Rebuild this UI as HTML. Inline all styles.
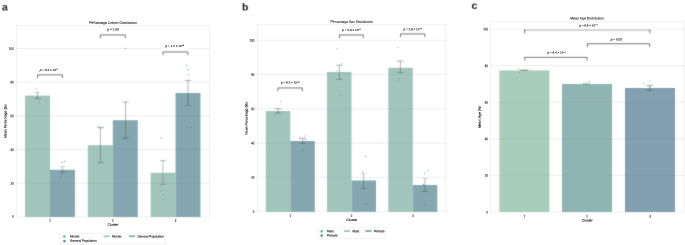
<!DOCTYPE html>
<html lang="en"><head><meta charset="utf-8"><title>Cluster distributions</title>
<style>html,body{margin:0;padding:0;background:#fff}svg{display:block}svg text{font-family:"Liberation Sans",Arial,sans-serif;text-rendering:geometricPrecision}</style></head><body>
<svg width="685" height="245" viewBox="0 0 685 245" >
<defs><filter id="soft" x="0" y="0" width="100%" height="100%" color-interpolation-filters="sRGB"><feConvolveMatrix order="3" kernelMatrix="1 6 1 6 36 6 1 6 1" divisor="64" edgeMode="duplicate"/></filter></defs>
<g filter="url(#soft)">
<rect width="685" height="245" fill="#fff"/>
<text x="2.00" y="10.50" font-size="10.4" text-anchor="start" font-weight="bold" fill="#111" stroke="#111" stroke-width="0.000" transform="rotate(0.05 2.00 10.50)">a</text>
<rect x="16.40" y="25.20" width="193.10" height="191.80" fill="#fff" stroke="#dadada" stroke-width="0.42"/>
<path d="M16.40 183.30H209.50" stroke="#e4e4e4" stroke-width="0.4"/>
<path d="M16.40 149.60H209.50" stroke="#e4e4e4" stroke-width="0.4"/>
<path d="M16.40 115.90H209.50" stroke="#e4e4e4" stroke-width="0.4"/>
<path d="M16.40 82.20H209.50" stroke="#e4e4e4" stroke-width="0.4"/>
<path d="M16.40 48.50H209.50" stroke="#e4e4e4" stroke-width="0.4"/>
<rect x="25.00" y="95.60" width="25.00" height="121.40" fill="#a1c5ba"/>
<rect x="50.00" y="169.80" width="25.00" height="47.20" fill="#85a8b0"/>
<rect x="87.80" y="145.20" width="25.00" height="71.80" fill="#a1c5ba"/>
<rect x="112.80" y="120.20" width="25.00" height="96.80" fill="#85a8b0"/>
<rect x="150.65" y="172.80" width="24.90" height="44.20" fill="#a1c5ba"/>
<rect x="175.55" y="93.00" width="24.90" height="124.00" fill="#85a8b0"/>
<path d="M16.40 183.30H209.50" stroke="#000" stroke-opacity="0.09" stroke-width="0.4"/>
<path d="M16.40 149.60H209.50" stroke="#000" stroke-opacity="0.09" stroke-width="0.4"/>
<path d="M16.40 115.90H209.50" stroke="#000" stroke-opacity="0.09" stroke-width="0.4"/>
<path d="M16.40 82.20H209.50" stroke="#000" stroke-opacity="0.09" stroke-width="0.4"/>
<path d="M16.40 48.50H209.50" stroke="#000" stroke-opacity="0.09" stroke-width="0.4"/>
<path d="M37.40 92.40V98.60" fill="none" stroke="#4a4a4a" stroke-width="0.42"/>
<path d="M34.30 92.40H40.50" fill="none" stroke="#8a8a8a" stroke-width="0.42"/>
<path d="M34.30 98.60H40.50" fill="none" stroke="#4a4a4a" stroke-width="0.42"/>
<path d="M62.60 166.60V172.40" fill="none" stroke="#4a4a4a" stroke-width="0.42"/>
<path d="M59.20 166.60H66.00" fill="none" stroke="#999" stroke-width="0.42"/>
<path d="M59.20 172.40H66.00" fill="none" stroke="#4a4a4a" stroke-width="0.42"/>
<path d="M100.40 127.60V162.60" fill="none" stroke="#4a4a4a" stroke-width="0.42"/>
<path d="M97.30 127.60H103.50" fill="none" stroke="#4a4a4a" stroke-width="0.42"/>
<path d="M97.30 162.60H103.50" fill="none" stroke="#4a4a4a" stroke-width="0.42"/>
<path d="M125.60 102.00V138.00" fill="none" stroke="#4a4a4a" stroke-width="0.42"/>
<path d="M122.50 102.00H128.70" fill="none" stroke="#4a4a4a" stroke-width="0.42"/>
<path d="M122.50 138.00H128.70" fill="none" stroke="#4a4a4a" stroke-width="0.42"/>
<path d="M162.90 160.60V184.40" fill="none" stroke="#777" stroke-width="0.5"/>
<path d="M159.80 160.60H166.00" fill="none" stroke="#777" stroke-width="0.5"/>
<path d="M159.80 184.40H166.00" fill="none" stroke="#777" stroke-width="0.5"/>
<path d="M188.00 80.40V105.40" fill="none" stroke="#000" stroke-opacity="0.2" stroke-width="1.4"/>
<path d="M184.90 80.40H191.10" fill="none" stroke="#6a6a6a" stroke-width="0.55"/>
<path d="M184.90 105.40H191.10" fill="none" stroke="#6a6a6a" stroke-width="0.55"/>
<circle cx="35.20" cy="88.20" r="0.55" fill="#4faa8e" fill-opacity="0.85"/>
<circle cx="36.40" cy="90.00" r="0.55" fill="#4faa8e" fill-opacity="0.85"/>
<circle cx="39.40" cy="102.80" r="0.55" fill="#4faa8e" fill-opacity="0.85"/>
<circle cx="98.50" cy="126.60" r="0.55" fill="#4faa8e" fill-opacity="0.85"/>
<circle cx="100.00" cy="127.60" r="0.55" fill="#4faa8e" fill-opacity="0.85"/>
<circle cx="101.60" cy="128.00" r="0.55" fill="#4faa8e" fill-opacity="0.85"/>
<circle cx="103.20" cy="126.80" r="0.55" fill="#4faa8e" fill-opacity="0.85"/>
<circle cx="160.60" cy="138.40" r="0.55" fill="#4faa8e" fill-opacity="0.85"/>
<circle cx="162.40" cy="137.80" r="0.55" fill="#4faa8e" fill-opacity="0.85"/>
<circle cx="160.60" cy="190.40" r="0.55" fill="#4faa8e" fill-opacity="0.85"/>
<circle cx="162.40" cy="195.40" r="0.55" fill="#4faa8e" fill-opacity="0.85"/>
<circle cx="163.40" cy="199.60" r="0.55" fill="#4faa8e" fill-opacity="0.85"/>
<circle cx="62.00" cy="162.40" r="0.55" fill="#2c7597" fill-opacity="0.85"/>
<circle cx="64.40" cy="161.40" r="0.55" fill="#2c7597" fill-opacity="0.85"/>
<circle cx="62.00" cy="174.50" r="0.55" fill="#2c7597" fill-opacity="0.85"/>
<circle cx="60.50" cy="176.50" r="0.55" fill="#2c7597" fill-opacity="0.85"/>
<circle cx="125.60" cy="48.40" r="0.55" fill="#2c7597" fill-opacity="0.85"/>
<circle cx="123.50" cy="138.50" r="0.55" fill="#2c7597" fill-opacity="0.85"/>
<circle cx="125.60" cy="139.20" r="0.55" fill="#2c7597" fill-opacity="0.85"/>
<circle cx="127.60" cy="137.40" r="0.55" fill="#2c7597" fill-opacity="0.85"/>
<circle cx="186.80" cy="65.40" r="0.55" fill="#2c7597" fill-opacity="0.85"/>
<circle cx="188.20" cy="69.60" r="0.55" fill="#2c7597" fill-opacity="0.85"/>
<circle cx="188.40" cy="74.60" r="0.55" fill="#2c7597" fill-opacity="0.85"/>
<circle cx="187.60" cy="127.20" r="0.55" fill="#2c7597" fill-opacity="0.85"/>
<circle cx="191.00" cy="127.60" r="0.55" fill="#2c7597" fill-opacity="0.85"/>
<path d="M37.55 78.10V74.85H62.45V78.10" fill="none" stroke="#3c3c3c" stroke-width="0.7"/>
<path d="M100.35 38.20V34.95H125.25V38.20" fill="none" stroke="#3c3c3c" stroke-width="0.7"/>
<path d="M162.95 55.20V51.95H187.85V55.20" fill="none" stroke="#3c3c3c" stroke-width="0.7"/>
<rect x="162.40" y="43.60" width="26.60" height="5.60" fill="#fff"/>
<rect x="60" y="233.4" width="105.6" height="10.3" rx="0.6" fill="#fff" stroke="#dcdcdc" stroke-width="0.4"/>
<circle cx="64.40" cy="236.50" r="1.2" fill="#4faa8e" fill-opacity="1"/>
<circle cx="64.40" cy="241.10" r="1.2" fill="#2a6a8a" fill-opacity="1"/>
<rect x="103.6" y="235.35" width="6.2" height="1.8" fill="#a1c5ba"/>
<rect x="129" y="235.35" width="6.2" height="1.8" fill="#85a8b0"/>
<text x="241.90" y="10.50" font-size="10.4" text-anchor="start" font-weight="bold" fill="#111" stroke="#111" stroke-width="0.000" transform="rotate(0.05 241.90 10.50)">b</text>
<rect x="257.60" y="24.40" width="188.40" height="187.50" fill="#fff" stroke="#dadada" stroke-width="0.42"/>
<path d="M257.60 177.35H446.00" stroke="#e4e4e4" stroke-width="0.4"/>
<path d="M257.60 143.10H446.00" stroke="#e4e4e4" stroke-width="0.4"/>
<path d="M257.60 108.85H446.00" stroke="#e4e4e4" stroke-width="0.4"/>
<path d="M257.60 74.60H446.00" stroke="#e4e4e4" stroke-width="0.4"/>
<path d="M257.60 40.35H446.00" stroke="#e4e4e4" stroke-width="0.4"/>
<rect x="265.80" y="111.00" width="24.50" height="100.90" fill="#a1c5ba"/>
<rect x="290.30" y="141.00" width="24.50" height="70.90" fill="#85a8b0"/>
<rect x="327.00" y="72.00" width="24.50" height="139.90" fill="#a1c5ba"/>
<rect x="351.50" y="180.50" width="24.50" height="31.40" fill="#85a8b0"/>
<rect x="388.30" y="67.80" width="24.50" height="144.10" fill="#a1c5ba"/>
<rect x="412.80" y="185.00" width="24.50" height="26.90" fill="#85a8b0"/>
<path d="M257.60 177.35H446.00" stroke="#000" stroke-opacity="0.09" stroke-width="0.4"/>
<path d="M257.60 143.10H446.00" stroke="#000" stroke-opacity="0.09" stroke-width="0.4"/>
<path d="M257.60 108.85H446.00" stroke="#000" stroke-opacity="0.09" stroke-width="0.4"/>
<path d="M257.60 74.60H446.00" stroke="#000" stroke-opacity="0.09" stroke-width="0.4"/>
<path d="M257.60 40.35H446.00" stroke="#000" stroke-opacity="0.09" stroke-width="0.4"/>
<path d="M278.00 108.60V113.00" fill="none" stroke="#4a4a4a" stroke-width="0.42"/>
<path d="M274.90 108.60H281.10" fill="none" stroke="#4a4a4a" stroke-width="0.42"/>
<path d="M274.90 113.00H281.10" fill="none" stroke="#4a4a4a" stroke-width="0.42"/>
<path d="M302.60 138.40V143.40" fill="none" stroke="#4a4a4a" stroke-width="0.42"/>
<path d="M299.50 138.40H305.70" fill="none" stroke="#4a4a4a" stroke-width="0.42"/>
<path d="M299.50 143.40H305.70" fill="none" stroke="#4a4a4a" stroke-width="0.42"/>
<path d="M339.40 65.20V79.40" fill="none" stroke="#4a4a4a" stroke-width="0.42"/>
<path d="M336.30 65.20H342.50" fill="none" stroke="#4a4a4a" stroke-width="0.42"/>
<path d="M336.30 79.40H342.50" fill="none" stroke="#4a4a4a" stroke-width="0.42"/>
<path d="M363.60 173.60V188.40" fill="none" stroke="#4a4a4a" stroke-width="0.42"/>
<path d="M360.50 173.60H366.70" fill="none" stroke="#b0b0b0" stroke-width="0.42"/>
<path d="M360.50 188.40H366.70" fill="none" stroke="#4a4a4a" stroke-width="0.42"/>
<path d="M400.40 61.00V72.40" fill="none" stroke="#4a4a4a" stroke-width="0.42"/>
<path d="M397.30 61.00H403.50" fill="none" stroke="#4a4a4a" stroke-width="0.42"/>
<path d="M397.30 72.40H403.50" fill="none" stroke="#4a4a4a" stroke-width="0.42"/>
<path d="M425.00 178.40V191.40" fill="none" stroke="#4a4a4a" stroke-width="0.42"/>
<path d="M421.90 178.40H428.10" fill="none" stroke="#b0b0b0" stroke-width="0.42"/>
<path d="M421.90 191.40H428.10" fill="none" stroke="#4a4a4a" stroke-width="0.42"/>
<circle cx="280.60" cy="101.40" r="0.55" fill="#4faa8e" fill-opacity="0.85"/>
<circle cx="275.00" cy="115.60" r="0.55" fill="#4faa8e" fill-opacity="0.85"/>
<circle cx="337.00" cy="48.40" r="0.55" fill="#4faa8e" fill-opacity="0.85"/>
<circle cx="341.60" cy="63.60" r="0.55" fill="#4faa8e" fill-opacity="0.85"/>
<circle cx="337.00" cy="70.60" r="0.55" fill="#4faa8e" fill-opacity="0.85"/>
<circle cx="341.40" cy="95.40" r="0.55" fill="#4faa8e" fill-opacity="0.85"/>
<circle cx="398.00" cy="47.40" r="0.55" fill="#4faa8e" fill-opacity="0.85"/>
<circle cx="398.00" cy="61.20" r="0.55" fill="#4faa8e" fill-opacity="0.85"/>
<circle cx="399.40" cy="79.00" r="0.55" fill="#4faa8e" fill-opacity="0.85"/>
<circle cx="398.00" cy="81.40" r="0.55" fill="#4faa8e" fill-opacity="0.85"/>
<circle cx="299.40" cy="137.60" r="0.55" fill="#2c7597" fill-opacity="0.85"/>
<circle cx="305.00" cy="136.00" r="0.55" fill="#2c7597" fill-opacity="0.85"/>
<circle cx="305.40" cy="139.40" r="0.55" fill="#2c7597" fill-opacity="0.85"/>
<circle cx="302.60" cy="150.40" r="0.55" fill="#2c7597" fill-opacity="0.85"/>
<circle cx="365.60" cy="156.40" r="0.55" fill="#2c7597" fill-opacity="0.85"/>
<circle cx="362.40" cy="172.00" r="0.55" fill="#2c7597" fill-opacity="0.85"/>
<circle cx="366.40" cy="203.40" r="0.55" fill="#2c7597" fill-opacity="0.85"/>
<circle cx="363.60" cy="188.40" r="0.55" fill="#2c7597" fill-opacity="0.85"/>
<circle cx="428.00" cy="170.20" r="0.55" fill="#2c7597" fill-opacity="0.85"/>
<circle cx="424.40" cy="173.20" r="0.55" fill="#2c7597" fill-opacity="0.85"/>
<circle cx="425.00" cy="204.40" r="0.55" fill="#2c7597" fill-opacity="0.85"/>
<circle cx="423.50" cy="184.40" r="0.55" fill="#2c7597" fill-opacity="0.85"/>
<path d="M277.95 91.20V87.95H302.25V91.20" fill="none" stroke="#3c3c3c" stroke-width="0.7"/>
<path d="M339.35 38.20V34.95H363.25V38.20" fill="none" stroke="#3c3c3c" stroke-width="0.7"/>
<path d="M400.55 37.20V33.95H424.85V37.20" fill="none" stroke="#3c3c3c" stroke-width="0.7"/>
<rect x="317.6" y="228" width="68" height="10.4" rx="0.6" fill="#fff" stroke="#dcdcdc" stroke-width="0.4"/>
<circle cx="321.70" cy="231.20" r="1.2" fill="#4faa8e" fill-opacity="1"/>
<circle cx="321.70" cy="235.60" r="1.2" fill="#2a6a8a" fill-opacity="1"/>
<rect x="344" y="230.1" width="6.1" height="1.9" fill="#a1c5ba"/>
<rect x="365.4" y="230.1" width="6.1" height="1.9" fill="#85a8b0"/>
<text x="471.50" y="9.10" font-size="10.4" text-anchor="start" font-weight="bold" fill="#111" stroke="#111" stroke-width="0.000" transform="rotate(0.05 471.50 9.10)">c</text>
<rect x="490.40" y="21.30" width="193.60" height="190.70" fill="#fff" stroke="#dadada" stroke-width="0.42"/>
<path d="M490.40 175.44H684.00" stroke="#e4e4e4" stroke-width="0.4"/>
<path d="M490.40 138.88H684.00" stroke="#e4e4e4" stroke-width="0.4"/>
<path d="M490.40 102.32H684.00" stroke="#e4e4e4" stroke-width="0.4"/>
<path d="M490.40 65.76H684.00" stroke="#e4e4e4" stroke-width="0.4"/>
<path d="M490.40 29.20H684.00" stroke="#e4e4e4" stroke-width="0.4"/>
<rect x="499.40" y="70.40" width="50" height="141.60" fill="#a8cdbb"/>
<rect x="562.00" y="84.00" width="50" height="128.00" fill="#8fb5b2"/>
<rect x="625.00" y="88.00" width="50" height="124.00" fill="#839fb1"/>
<path d="M490.40 175.44H684.00" stroke="#000" stroke-opacity="0.09" stroke-width="0.4"/>
<path d="M490.40 138.88H684.00" stroke="#000" stroke-opacity="0.09" stroke-width="0.4"/>
<path d="M490.40 102.32H684.00" stroke="#000" stroke-opacity="0.09" stroke-width="0.4"/>
<path d="M490.40 65.76H684.00" stroke="#000" stroke-opacity="0.09" stroke-width="0.4"/>
<path d="M490.40 29.20H684.00" stroke="#000" stroke-opacity="0.09" stroke-width="0.4"/>
<path d="M524.40 69.80V70.60" fill="none" stroke="#777" stroke-width="0.5"/>
<path d="M520.70 69.80H528.10" fill="none" stroke="#777" stroke-width="0.5"/>
<path d="M520.70 70.60H528.10" fill="none" stroke="#777" stroke-width="0.5"/>
<path d="M586.70 83.10V84.30" fill="none" stroke="#999" stroke-width="0.5"/>
<path d="M583.20 83.10H590.20" fill="none" stroke="#999" stroke-width="0.5"/>
<path d="M583.20 84.30H590.20" fill="none" stroke="#999" stroke-width="0.5"/>
<path d="M649.70 85.40V90.40" fill="none" stroke="#555" stroke-width="0.5"/>
<path d="M646.30 85.40H653.10" fill="none" stroke="#555" stroke-width="0.5"/>
<path d="M646.30 90.40H653.10" fill="none" stroke="#555" stroke-width="0.5"/>
<circle cx="518.30" cy="68.90" r="0.55" fill="#4faa8e" fill-opacity="0.85"/>
<circle cx="520.40" cy="69.80" r="0.55" fill="#4faa8e" fill-opacity="0.85"/>
<circle cx="530.50" cy="69.80" r="0.55" fill="#4faa8e" fill-opacity="0.85"/>
<circle cx="519.40" cy="72.50" r="0.55" fill="#4faa8e" fill-opacity="0.85"/>
<circle cx="589.50" cy="81.50" r="0.55" fill="#3a8f93" fill-opacity="0.85"/>
<circle cx="583.60" cy="84.10" r="0.55" fill="#3a8f93" fill-opacity="0.85"/>
<circle cx="586.00" cy="84.50" r="0.55" fill="#3a8f93" fill-opacity="0.85"/>
<circle cx="643.80" cy="83.20" r="0.55" fill="#3f86ad" fill-opacity="0.85"/>
<circle cx="650.00" cy="80.80" r="0.55" fill="#3f86ad" fill-opacity="0.85"/>
<circle cx="650.20" cy="87.20" r="0.55" fill="#3f86ad" fill-opacity="0.85"/>
<path d="M524.2 30.05H650.3" stroke="#c2c2c2" stroke-width="1.15" fill="none"/>
<path d="M524.6 29.7V33.4M649.9 29.7V33.4" stroke="#3a3a3a" stroke-width="0.7" fill="none"/>
<rect x="579.00" y="23.20" width="19.00" height="5.40" fill="#fff"/>
<path d="M587.35 47.00V43.75H649.65V47.00" fill="none" stroke="#3c3c3c" stroke-width="0.7"/>
<path d="M524.75 60.60V57.35H587.05V60.60" fill="none" stroke="#3c3c3c" stroke-width="0.7"/>
</g>
<g>
<text transform="translate(13.80 217.80) rotate(0.05) scale(1 1.35)" font-size="2.9" text-anchor="end" fill="#1a1a1a" stroke="#1a1a1a" stroke-width="0.087">0</text>
<text transform="translate(13.80 184.70) rotate(0.05) scale(1 1.35)" font-size="2.9" text-anchor="end" fill="#1a1a1a" stroke="#1a1a1a" stroke-width="0.087">20</text>
<text transform="translate(13.80 151.00) rotate(0.05) scale(1 1.35)" font-size="2.9" text-anchor="end" fill="#1a1a1a" stroke="#1a1a1a" stroke-width="0.087">40</text>
<text transform="translate(13.80 117.30) rotate(0.05) scale(1 1.35)" font-size="2.9" text-anchor="end" fill="#1a1a1a" stroke="#1a1a1a" stroke-width="0.087">60</text>
<text transform="translate(13.80 83.60) rotate(0.05) scale(1 1.35)" font-size="2.9" text-anchor="end" fill="#1a1a1a" stroke="#1a1a1a" stroke-width="0.087">80</text>
<text transform="translate(13.80 49.90) rotate(0.05) scale(1 1.35)" font-size="2.9" text-anchor="end" fill="#1a1a1a" stroke="#1a1a1a" stroke-width="0.087">100</text>
<text x="112.95" y="23.90" font-size="3.52" text-anchor="middle" font-weight="normal" fill="#222" stroke="#222" stroke-width="0.070" transform="rotate(0.05 112.95 23.90)">Percentage Cohort Distribution</text>
<text transform="translate(50.00 221.80) rotate(0.05) scale(1 1.35)" font-size="2.9" text-anchor="middle" fill="#1a1a1a" stroke="#1a1a1a" stroke-width="0.087">1</text>
<text transform="translate(112.80 221.80) rotate(0.05) scale(1 1.35)" font-size="2.9" text-anchor="middle" fill="#1a1a1a" stroke="#1a1a1a" stroke-width="0.087">2</text>
<text transform="translate(175.50 221.80) rotate(0.05) scale(1 1.35)" font-size="2.9" text-anchor="middle" fill="#1a1a1a" stroke="#1a1a1a" stroke-width="0.087">3</text>
<text x="112.95" y="225.80" font-size="3.45" text-anchor="middle" font-weight="normal" fill="#1a1a1a" stroke="#1a1a1a" stroke-width="0.110" transform="rotate(0.05 112.95 225.80)">Cluster</text>
<text x="6.40" y="121.10" font-size="3.47" text-anchor="middle" font-weight="normal" fill="#1a1a1a" stroke="#1a1a1a" stroke-width="0.111" transform="rotate(-89.95 6.40 121.10)">Mean Percentage (%)</text>
<text x="49.00" y="71.00" font-size="3.0" text-anchor="middle" font-weight="normal" fill="#111" stroke="#111" stroke-width="0.096" transform="rotate(0.05 49.00 71.00)"><tspan font-style="italic">p</tspan> = 6.4 × 10<tspan font-size="2.10" dy="-0.90">−7</tspan></text>
<text x="112.90" y="30.40" font-size="3.25" text-anchor="middle" font-weight="normal" fill="#111" stroke="#111" stroke-width="0.104" transform="rotate(0.05 112.90 30.40)"><tspan font-style="italic">p</tspan> = 1.00</text>
<text x="174.80" y="47.00" font-size="3.0" text-anchor="middle" font-weight="normal" fill="#111" stroke="#111" stroke-width="0.096" transform="rotate(0.05 174.80 47.00)"><tspan font-style="italic">p</tspan> = 1.2 × 10<tspan font-size="2.10" dy="-0.90">−4</tspan></text>
<text x="70.00" y="237.50" font-size="3.12" text-anchor="start" font-weight="normal" fill="#1a1a1a" stroke="#1a1a1a" stroke-width="0.100" transform="rotate(0.05 70.00 237.50)">Minder</text>
<text x="70.00" y="241.80" font-size="3.12" text-anchor="start" font-weight="normal" fill="#1a1a1a" stroke="#1a1a1a" stroke-width="0.100" transform="rotate(0.05 70.00 241.80)">General Population</text>
<text x="112.00" y="237.50" font-size="3.12" text-anchor="start" font-weight="normal" fill="#1a1a1a" stroke="#1a1a1a" stroke-width="0.100" transform="rotate(0.05 112.00 237.50)">Minder</text>
<text x="137.40" y="237.50" font-size="3.12" text-anchor="start" font-weight="normal" fill="#1a1a1a" stroke="#1a1a1a" stroke-width="0.100" transform="rotate(0.05 137.40 237.50)">General Population</text>
<text transform="translate(254.40 213.00) rotate(0.05) scale(1 1.35)" font-size="2.9" text-anchor="end" fill="#1a1a1a" stroke="#1a1a1a" stroke-width="0.087">0</text>
<text transform="translate(254.40 178.75) rotate(0.05) scale(1 1.35)" font-size="2.9" text-anchor="end" fill="#1a1a1a" stroke="#1a1a1a" stroke-width="0.087">20</text>
<text transform="translate(254.40 144.50) rotate(0.05) scale(1 1.35)" font-size="2.9" text-anchor="end" fill="#1a1a1a" stroke="#1a1a1a" stroke-width="0.087">40</text>
<text transform="translate(254.40 110.25) rotate(0.05) scale(1 1.35)" font-size="2.9" text-anchor="end" fill="#1a1a1a" stroke="#1a1a1a" stroke-width="0.087">60</text>
<text transform="translate(254.40 76.00) rotate(0.05) scale(1 1.35)" font-size="2.9" text-anchor="end" fill="#1a1a1a" stroke="#1a1a1a" stroke-width="0.087">80</text>
<text transform="translate(254.40 41.75) rotate(0.05) scale(1 1.35)" font-size="2.9" text-anchor="end" fill="#1a1a1a" stroke="#1a1a1a" stroke-width="0.087">100</text>
<text x="351.80" y="22.90" font-size="3.43" text-anchor="middle" font-weight="normal" fill="#222" stroke="#222" stroke-width="0.069" transform="rotate(0.05 351.80 22.90)">Percentage Sex Distribution</text>
<text transform="translate(290.40 217.00) rotate(0.05) scale(1 1.35)" font-size="2.9" text-anchor="middle" fill="#1a1a1a" stroke="#1a1a1a" stroke-width="0.087">1</text>
<text transform="translate(351.50 217.00) rotate(0.05) scale(1 1.35)" font-size="2.9" text-anchor="middle" fill="#1a1a1a" stroke="#1a1a1a" stroke-width="0.087">2</text>
<text transform="translate(412.80 217.00) rotate(0.05) scale(1 1.35)" font-size="2.9" text-anchor="middle" fill="#1a1a1a" stroke="#1a1a1a" stroke-width="0.087">3</text>
<text x="351.80" y="221.00" font-size="3.45" text-anchor="middle" font-weight="normal" fill="#1a1a1a" stroke="#1a1a1a" stroke-width="0.110" transform="rotate(0.05 351.80 221.00)">Cluster</text>
<text x="247.55" y="118.60" font-size="3.37" text-anchor="middle" font-weight="normal" fill="#1a1a1a" stroke="#1a1a1a" stroke-width="0.108" transform="rotate(-89.95 247.55 118.60)">Mean Percentage (%)</text>
<text x="290.20" y="83.60" font-size="3.0" text-anchor="middle" font-weight="normal" fill="#111" stroke="#111" stroke-width="0.096" transform="rotate(0.05 290.20 83.60)"><tspan font-style="italic">p</tspan> = 6.2 × 10<tspan font-size="2.10" dy="-0.90">−6</tspan></text>
<text x="351.50" y="31.00" font-size="3.0" text-anchor="middle" font-weight="normal" fill="#111" stroke="#111" stroke-width="0.096" transform="rotate(0.05 351.50 31.00)"><tspan font-style="italic">p</tspan> = 5.3 × 10<tspan font-size="2.10" dy="-0.90">−9</tspan></text>
<text x="412.60" y="30.20" font-size="3.0" text-anchor="middle" font-weight="normal" fill="#111" stroke="#111" stroke-width="0.096" transform="rotate(0.05 412.60 30.20)"><tspan font-style="italic">p</tspan> = 2.8 × 10<tspan font-size="2.10" dy="-0.90">−9</tspan></text>
<text x="327.00" y="232.30" font-size="3.12" text-anchor="start" font-weight="normal" fill="#1a1a1a" stroke="#1a1a1a" stroke-width="0.100" transform="rotate(0.05 327.00 232.30)">Male</text>
<text x="327.00" y="236.45" font-size="3.12" text-anchor="start" font-weight="normal" fill="#1a1a1a" stroke="#1a1a1a" stroke-width="0.100" transform="rotate(0.05 327.00 236.45)">Female</text>
<text x="352.40" y="232.30" font-size="3.12" text-anchor="start" font-weight="normal" fill="#1a1a1a" stroke="#1a1a1a" stroke-width="0.100" transform="rotate(0.05 352.40 232.30)">Male</text>
<text x="374.00" y="232.30" font-size="3.12" text-anchor="start" font-weight="normal" fill="#1a1a1a" stroke="#1a1a1a" stroke-width="0.100" transform="rotate(0.05 374.00 232.30)">Female</text>
<text transform="translate(488.00 213.40) rotate(0.05) scale(1 1.35)" font-size="2.9" text-anchor="end" fill="#1a1a1a" stroke="#1a1a1a" stroke-width="0.087">0</text>
<text transform="translate(488.00 176.84) rotate(0.05) scale(1 1.35)" font-size="2.9" text-anchor="end" fill="#1a1a1a" stroke="#1a1a1a" stroke-width="0.087">20</text>
<text transform="translate(488.00 140.28) rotate(0.05) scale(1 1.35)" font-size="2.9" text-anchor="end" fill="#1a1a1a" stroke="#1a1a1a" stroke-width="0.087">40</text>
<text transform="translate(488.00 103.72) rotate(0.05) scale(1 1.35)" font-size="2.9" text-anchor="end" fill="#1a1a1a" stroke="#1a1a1a" stroke-width="0.087">60</text>
<text transform="translate(488.00 67.16) rotate(0.05) scale(1 1.35)" font-size="2.9" text-anchor="end" fill="#1a1a1a" stroke="#1a1a1a" stroke-width="0.087">80</text>
<text transform="translate(488.00 30.60) rotate(0.05) scale(1 1.35)" font-size="2.9" text-anchor="end" fill="#1a1a1a" stroke="#1a1a1a" stroke-width="0.087">100</text>
<text x="587.20" y="19.50" font-size="3.48" text-anchor="middle" font-weight="normal" fill="#222" stroke="#222" stroke-width="0.070" transform="rotate(0.05 587.20 19.50)">Mean Age Distribution</text>
<text transform="translate(524.40 217.40) rotate(0.05) scale(1 1.35)" font-size="2.9" text-anchor="middle" fill="#1a1a1a" stroke="#1a1a1a" stroke-width="0.087">1</text>
<text transform="translate(587.00 217.40) rotate(0.05) scale(1 1.35)" font-size="2.9" text-anchor="middle" fill="#1a1a1a" stroke="#1a1a1a" stroke-width="0.087">2</text>
<text transform="translate(650.00 217.40) rotate(0.05) scale(1 1.35)" font-size="2.9" text-anchor="middle" fill="#1a1a1a" stroke="#1a1a1a" stroke-width="0.087">3</text>
<text x="587.20" y="221.55" font-size="3.45" text-anchor="middle" font-weight="normal" fill="#1a1a1a" stroke="#1a1a1a" stroke-width="0.110" transform="rotate(0.05 587.20 221.55)">Cluster</text>
<text x="480.85" y="116.80" font-size="3.57" text-anchor="middle" font-weight="normal" fill="#1a1a1a" stroke="#1a1a1a" stroke-width="0.114" transform="rotate(-89.95 480.85 116.80)">Mean Age (%)</text>
<text x="588.40" y="26.50" font-size="3.0" text-anchor="middle" font-weight="normal" fill="#111" stroke="#111" stroke-width="0.096" transform="rotate(0.05 588.40 26.50)"><tspan font-style="italic">p</tspan> = 6.6 × 10<tspan font-size="2.10" dy="-0.90">−7</tspan></text>
<text x="616.40" y="40.60" font-size="3.1" text-anchor="middle" font-weight="normal" fill="#111" stroke="#111" stroke-width="0.099" transform="rotate(0.05 616.40 40.60)"><tspan font-style="italic">p</tspan> = 0.03</text>
<text x="556.60" y="53.60" font-size="3.0" text-anchor="middle" font-weight="normal" fill="#111" stroke="#111" stroke-width="0.096" transform="rotate(0.05 556.60 53.60)"><tspan font-style="italic">p</tspan> = 6.4 × 10<tspan font-size="2.10" dy="-0.90">−7</tspan></text>
</g></svg></body></html>
